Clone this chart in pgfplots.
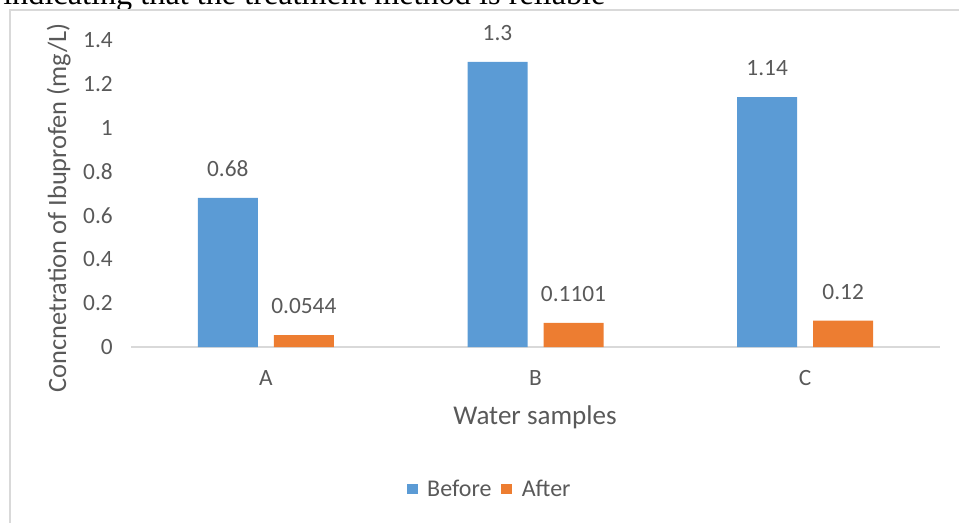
\documentclass[border=0pt]{standalone}
\usepackage{fontspec}
\setmainfont{Carlito}
\newfontfamily\bodyserif{Liberation Serif}
\usepackage{pgfplots}
\pgfplotsset{compat=1.18}

\definecolor{beforeblue}{HTML}{5B9BD5}
\definecolor{afterorange}{HTML}{ED7D31}
\definecolor{txtgray}{HTML}{595959}
\definecolor{linegray}{HTML}{D9D9D9}

\begin{document}
\begin{tikzpicture}
\useasboundingbox (0,0) rectangle (719.25pt,-392.25pt);
\clip (0,0) rectangle (719.25pt,-392.25pt);

% surrounding text line and chart frame (1 unit = 0.75pt, y downwards)
\begin{scope}[x=0.75pt,y=-0.75pt]
  \node[anchor=base west, inner sep=0pt, font=\bodyserif\fontsize{24.2}{26}\selectfont]
    at (3,5) {indicating that the treatment method is reliable};
  \draw[linegray, line width=1.2pt] (10,523) -- (10,10) -- (959,10);
  \node[rotate=90, anchor=base, inner sep=0pt, text=txtgray, font=\fontsize{19.8}{22}\selectfont]
    at (66,208) {Concnetration of Ibuprofen (mg/L)};
  \node[anchor=center, inner sep=0pt, text=txtgray, font=\fontsize{20.3}{23}\selectfont]
    at (535,417) {Water samples};
\end{scope}

\begin{axis}[
  at={(98.25pt,-260.25pt)}, anchor=south west,
  scale only axis, width=606.75pt, height=230.25pt,
  xmin=-0.5, xmax=2.5, ymin=0, ymax=1.4,
  axis line style={draw=none},
  major tick length=0pt,
  xtick=data, xticklabels={A,B,C},
  ytick={0,0.2,0.4,0.6,0.8,1,1.2,1.4},
  /pgf/number format/assume math mode=true,
  yticklabel style={/pgf/number format/fixed, anchor=east, inner sep=0pt, xshift=-13.5pt,
    text=txtgray, font=\fontsize{17.5}{20}\selectfont},
  xticklabel style={anchor=center, inner sep=0pt, yshift=-23.25pt,
    text=txtgray, font=\fontsize{17.5}{20}\selectfont},
  ybar, bar width=45pt,
  nodes near coords={\pgfmathprintnumber[fixed,precision=4,assume math mode=true]{\pgfplotspointmeta}},
  every node near coord/.append style={anchor=center, inner sep=0pt, yshift=21.75pt,
    text=txtgray, font=\fontsize{17.5}{20}\selectfont},
  legend columns=2,
  legend style={draw=none, fill=none, at={(0.4438,-0.4625)}, anchor=center,
    font=\fontsize{18}{20}\selectfont, text=txtgray,
    /tikz/every odd column/.append style={column sep=5pt},
    /tikz/every even column/.append style={column sep=5.5pt}},
  legend image code/.code={\fill[#1] (0pt,-4.1pt) rectangle (8.25pt,4.1pt);},
  clip=false,
]
\draw[linegray, line width=1.2pt] (axis cs:-0.5,0) -- (axis cs:2.5,0);
\addplot[fill=beforeblue, draw=none, bar shift=-28.5pt]
  coordinates {(0,0.68) (1,1.3) (2,1.14)};
\addplot[fill=afterorange, draw=none, bar shift=28.5pt]
  coordinates {(0,0.0544) (1,0.1101) (2,0.12)};
\legend{Before,After}
\end{axis}
\end{tikzpicture}
\end{document}
